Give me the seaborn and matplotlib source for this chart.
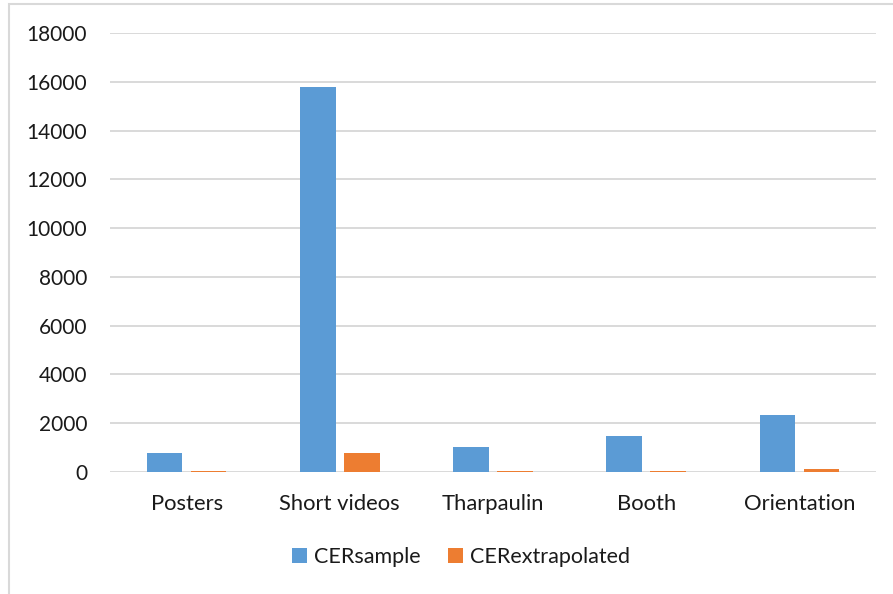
import matplotlib
matplotlib.use("Agg")
import matplotlib.pyplot as plt
from matplotlib.patches import Rectangle
import seaborn as sns
import pandas as pd

categories = ["Posters", "Short videos", "Tharpaulin", "Booth", "Orientation"]
cer_sample = [780, 15800, 1030, 1450, 2330]
cer_extrapolated = [25, 780, 25, 45, 100]
series_names = ["CERsample", "CERextrapolated"]
y_ticks = [0, 2000, 4000, 6000, 8000, 10000, 12000, 14000, 16000, 18000]

df = pd.DataFrame({
    "category": categories * 2,
    "value": cer_sample + cer_extrapolated,
    "series": [series_names[0]] * len(categories) + [series_names[1]] * len(categories),
})

sns.set_theme(style="white")
plt.rcParams["font.family"] = ["Lato", "DejaVu Sans"]

W, H = 893, 594
fig = plt.figure(figsize=(W / 100, H / 100), dpi=100)
ax = fig.add_axes([110 / W, 1 - 471.7 / H, 766 / W, 438.4 / H])

# outer chart frame
fig.patches.append(Rectangle((9 / W, -0.1), 1.2, 1.1 - 4 / H, transform=fig.transFigure,
                             fill=False, edgecolor="#D9D9D9", linewidth=1.5, zorder=0))

palette = {"CERsample": "#5B9BD5", "CERextrapolated": "#ED7D31"}
sns.barplot(data=df, x="category", y="value", hue="series", order=categories,
            hue_order=series_names, palette=palette, width=0.575, gap=0.19,
            saturation=1, linewidth=0, ax=ax, zorder=3, legend=True)

ax.set_ylim(0, 18000)
ax.set_xlim(-0.5, len(categories) - 0.5)
ax.set_yticks(y_ticks)
ax.set_yticklabels([str(t) for t in y_ticks])
ax.yaxis.grid(True, color="#D9D9D9", linewidth=1.4, zorder=0)
ax.xaxis.grid(False)
for s in ax.spines.values():
    s.set_visible(False)
ax.tick_params(axis="y", length=0, pad=16.5, labelsize=15, labelcolor="#1a1a1a")
ax.tick_params(axis="x", length=0, pad=16, labelsize=15.8, labelcolor="#1a1a1a")
ax.set_xlabel("")
ax.set_ylabel("")

leg = ax.legend(loc="center", bbox_to_anchor=(461 / W, 1 - 556.7 / H),
                bbox_transform=fig.transFigure, ncol=2, frameon=False,
                fontsize=15.5, handlelength=0.7, handleheight=0.7,
                handletextpad=0.35, columnspacing=1.25)
for t in leg.get_texts():
    t.set_color("#1a1a1a")
for h in leg.legend_handles:
    h.set_linewidth(0)

fig.savefig("out.png", dpi=100, facecolor="white")
